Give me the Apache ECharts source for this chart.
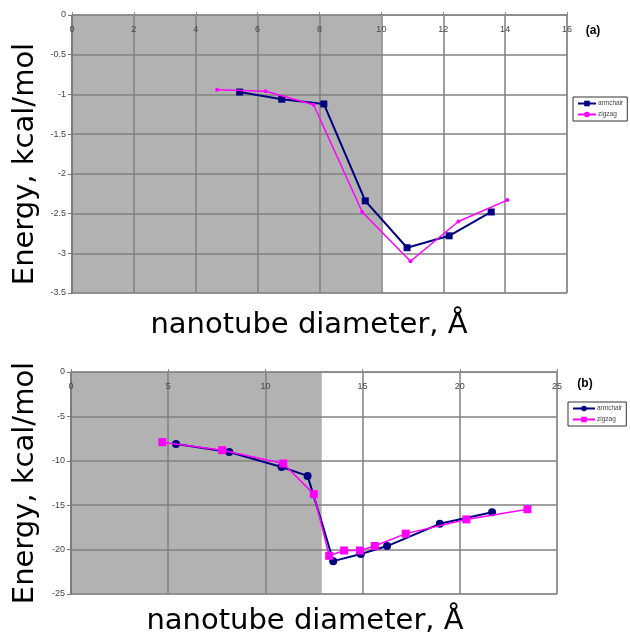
<!DOCTYPE html>
<html>
<head>
<meta charset="utf-8">
<script src="https://cdn.jsdelivr.net/npm/echarts@6/dist/echarts.min.js"></script>
<style>
html,body{margin:0;padding:0;background:#fff;}
#a{position:absolute;left:0;top:0;width:630px;height:345px;}
#b{position:absolute;left:0;top:345px;width:630px;height:291px;}
</style>
</head>
<body>
<div id="a"></div>
<div id="b"></div>
<script>
// ---- data (a) ----
const topArmX = [5.42, 6.78, 8.14, 9.48, 10.83, 12.19, 13.55];
const topArmY = [-0.97, -1.06, -1.12, -2.34, -2.93, -2.78, -2.48];
const topZigX = [4.69, 6.26, 7.81, 9.38, 10.94, 12.49, 14.07];
const topZigY = [-0.94, -0.96, -1.13, -2.48, -3.10, -2.60, -2.33];
const topShade = [0, 10];
// ---- data (b) ----
const botArmX = [5.40, 8.14, 10.83, 12.17, 12.95, 13.49, 14.91, 16.26, 18.97, 21.66];
const botArmY = [-8.1, -9.0, -10.7, -11.7, -17.3, -21.3, -20.5, -19.6, -17.1, -15.8];
const botZigX = [4.70, 7.78, 10.92, 12.49, 13.28, 14.05, 14.86, 15.63, 17.22, 20.34, 23.48];
const botZigY = [-7.9, -8.8, -10.3, -13.75, -20.7, -20.1, -20.1, -19.6, -18.2, -16.6, -15.45];
const botShade = [0, 12.9];
const botArmHidden = [4]; // point whose marker is covered in the original
const seriesNames = ['armchair', 'zigzag'];
const yTitle = 'Energy, kcal/mol';
const xTitle = 'nanotube diameter, Å';

const zip = (xs, ys) => xs.map((x, i) => [x, ys[i]]);
const NAVY = '#000080', MAG = '#ff00ff', GRID = '#808080', SHADE = '#b2b2b2';
const tickFont = {fontFamily: 'Liberation Sans', fontSize: 9, color: '#444'};

function makeOption(cfg) {
  const hidden = cfg.armHidden || [];
  return {
    animation: false,
    grid: {left: cfg.grid[0], top: cfg.grid[1], width: cfg.grid[2], height: cfg.grid[3],
           show: true, borderColor: '#aaa', borderWidth: 1, backgroundColor: 'transparent'},
    xAxis: {type: 'value', position: 'top', min: cfg.xMin, max: cfg.xMax, interval: cfg.xInt, z: 5,
      axisLine: {show: true, onZero: false, lineStyle: {color: '#888', width: 1}},
      axisTick: {show: true, inside: false, length: 3, lineStyle: {color: '#888'}},
      axisLabel: Object.assign({inside: true, margin: 10}, tickFont),
      splitLine: {show: true, lineStyle: {color: GRID, width: 1.5}}},
    yAxis: {type: 'value', min: cfg.yMin, max: cfg.yMax, interval: cfg.yInt, z: 5,
      axisLine: {show: true, onZero: false, lineStyle: {color: '#777', width: 1.5}},
      axisTick: {show: true, length: 4, lineStyle: {color: '#777'}},
      axisLabel: Object.assign({margin: 6}, tickFont),
      splitLine: {show: true, lineStyle: {color: GRID, width: 1.5}}},
    legend: {left: cfg.legend[0], top: cfg.legend[1], orient: 'vertical',
      data: seriesNames, padding: [3, 4], itemGap: 4, itemWidth: cfg.legItemW, itemHeight: 7,
      borderColor: '#333', borderWidth: 1, backgroundColor: '#fff',
      textStyle: {fontFamily: 'Liberation Sans', fontSize: 6.5, color: '#444', padding: [0, 0, 0, -3]}},
    graphic: [
      {type: 'text', x: 25, y: cfg.yTitleY, rotation: Math.PI / 2,
       style: {text: yTitle, font: '29px "DejaVu Sans"', fill: '#000', align: 'center', verticalAlign: 'middle'}},
      {type: 'text', x: cfg.xTitle[0], y: cfg.xTitle[1],
       style: {text: xTitle, font: '29px "DejaVu Sans"', fill: '#000', align: 'center', verticalAlign: 'middle'}},
      {type: 'text', x: cfg.tag[0], y: cfg.tag[1],
       style: {text: cfg.tagText, font: 'bold 12px "Liberation Sans"', fill: '#000', align: 'center', verticalAlign: 'middle'}}
    ],
    series: [
      {type: 'line', name: '_shade', data: [], z: 1, silent: true,
       markArea: {silent: true, z: 1, itemStyle: {color: SHADE, opacity: 1},
         data: [[{xAxis: cfg.shade[0]}, {xAxis: cfg.shade[1]}]]}},
      {type: 'line', name: seriesNames[0], data: cfg.arm, symbol: cfg.armSym, z: 10,
       symbolSize: (v, p) => hidden.indexOf(p.dataIndex) >= 0 ? 0 : cfg.armSize,
       itemStyle: {color: NAVY}, lineStyle: {color: NAVY, width: 2}},
      {type: 'line', name: seriesNames[1], data: cfg.zig, symbol: cfg.zigSym, symbolSize: cfg.zigSize, z: 11,
       itemStyle: {color: MAG}, lineStyle: {color: MAG, width: 1.5}}
    ]
  };
}

const ca = echarts.init(document.getElementById('a'), null, {renderer: 'canvas'});
ca.setOption(makeOption({
  grid: [72, 15, 495, 278], xMin: 0, xMax: 16, xInt: 2, yMin: -3.5, yMax: 0, yInt: 0.5,
  legend: [573, 97], legItemW: 18, yTitleY: 164, xTitle: [309, 325], tag: [593, 31], tagText: '(a)',
  shade: topShade, arm: zip(topArmX, topArmY), zig: zip(topZigX, topZigY),
  armSym: 'rect', armSize: 7, zigSym: 'circle', zigSize: 4
}));

const cb = echarts.init(document.getElementById('b'), null, {renderer: 'canvas'});
cb.setOption(makeOption({
  grid: [71, 27, 486, 222], xMin: 0, xMax: 25, xInt: 5, yMin: -25, yMax: 0, yInt: 5,
  legend: [568, 57], legItemW: 22, yTitleY: 138, xTitle: [305, 276], tag: [585, 39], tagText: '(b)',
  shade: botShade, arm: zip(botArmX, botArmY), zig: zip(botZigX, botZigY), armHidden: botArmHidden,
  armSym: 'circle', armSize: 8, zigSym: 'rect', zigSize: 8
}));
</script>
</body>
</html>
